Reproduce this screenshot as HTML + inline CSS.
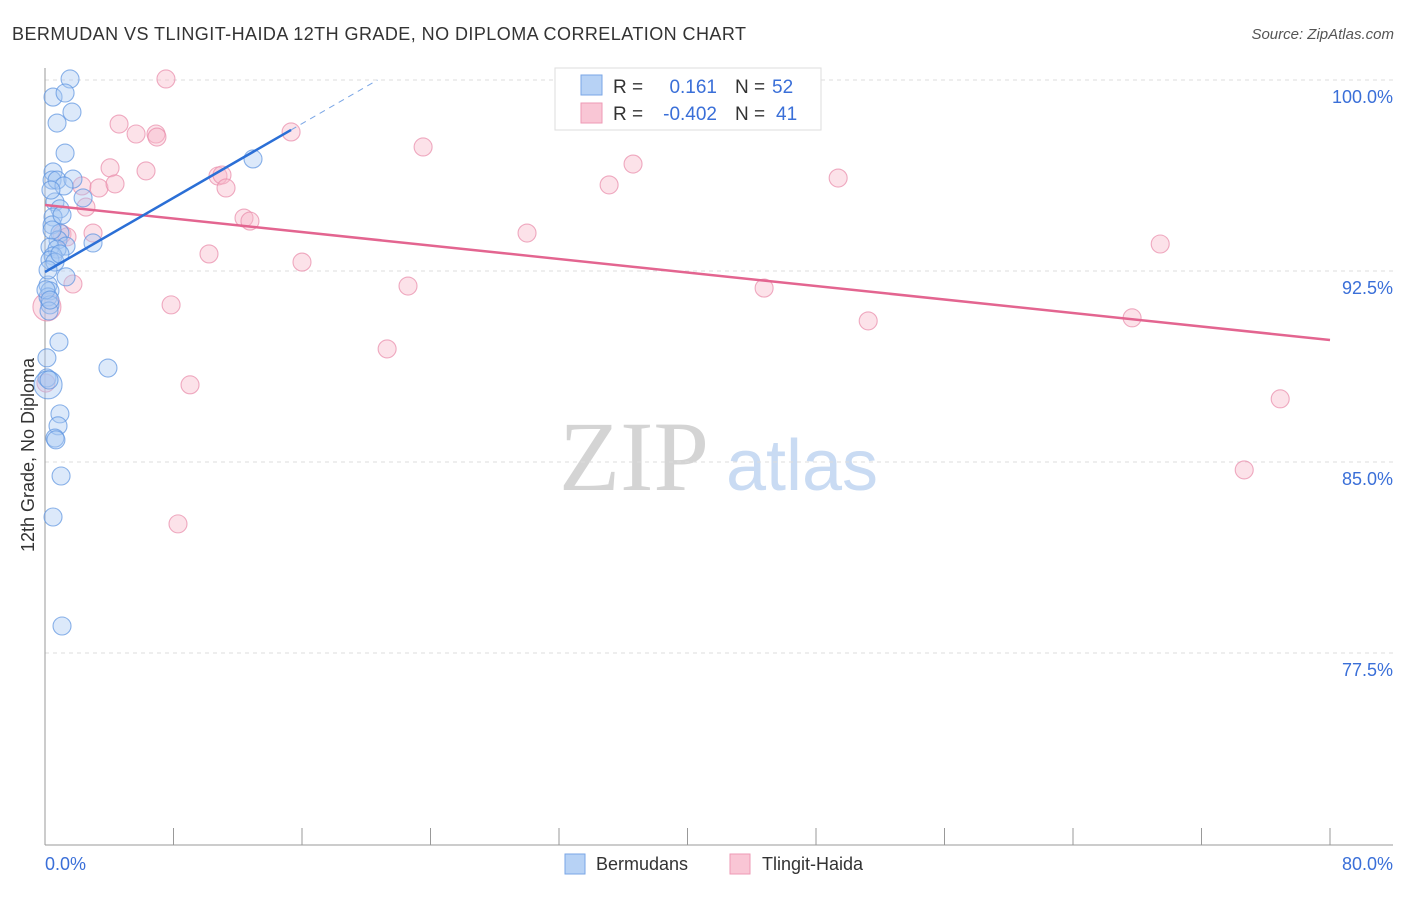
<!DOCTYPE html>
<html><head><meta charset="utf-8"><style>
body{margin:0;background:#fff;font-family:"Liberation Sans",sans-serif;}
svg text{font-family:"Liberation Sans",sans-serif;}
svg text.serif{font-family:"Liberation Serif",serif;}
</style></head><body>
<svg id="chart" width="1406" height="892">
<text x="12" y="40" font-size="18" fill="#333" textLength="734">BERMUDAN VS TLINGIT-HAIDA 12TH GRADE, NO DIPLOMA CORRELATION CHART</text>
<text x="1394" y="39" font-size="15" fill="#555" text-anchor="end" font-style="italic">Source: ZipAtlas.com</text>
<g>
<text class="serif" x="634" y="490" font-size="100" fill="#d4d4d4" text-anchor="middle">ZIP</text>
<text x="802" y="490" font-size="72" fill="#c9dbf3" text-anchor="middle">atlas</text>
</g>
<g id="grid"></g>
<g id="axes"></g>
<g id="pts"></g>
<g id="lines"></g>
<text transform="translate(34,455) rotate(-90)" font-size="18" fill="#333" text-anchor="middle">12th Grade, No Diploma</text>
<g>
<rect x="555" y="68" width="266" height="62" fill="#fff" stroke="#ddd"/>
<rect x="581" y="75" width="21" height="20" fill="#b7d2f5" stroke="#7aa6e6"/>
<rect x="581" y="103" width="21" height="20" fill="#f9c6d5" stroke="#ee9ab5"/>
<text x="613" y="93" font-size="19" fill="#333">R =</text>
<text x="717" y="93" font-size="19" fill="#3a6fd8" text-anchor="end">0.161</text>
<text x="735" y="93" font-size="19" fill="#333">N =</text>
<text x="772" y="93" font-size="19" fill="#3a6fd8">52</text>
<text x="613" y="120" font-size="19" fill="#333">R =</text>
<text x="717" y="120" font-size="19" fill="#3a6fd8" text-anchor="end">-0.402</text>
<text x="735" y="120" font-size="19" fill="#333">N =</text>
<text x="776" y="120" font-size="19" fill="#3a6fd8">41</text>
</g>
<g>
<rect x="565" y="854" width="20" height="20" fill="#b7d2f5" stroke="#7aa6e6"/>
<text x="596" y="870" font-size="18" fill="#333">Bermudans</text>
<rect x="730" y="854" width="20" height="20" fill="#f9c6d5" stroke="#ee9ab5"/>
<text x="762" y="870" font-size="18" fill="#333">Tlingit-Haida</text>
</g>
</svg>
<script>
const yTicks=[100,92.5,85,77.5];
const yTickLabels=["100.0%","92.5%","85.0%","77.5%"];
const xTickLabels=["0.0%","80.0%"];
const blueX=[1.56,0.50,1.25,1.68,0.75,1.25,12.95,0.50,0.44,0.75,1.74,1.18,2.37,0.62,0.93,0.50,0.44,0.93,0.81,1.31,2.99,0.31,0.75,0.50,0.31,1.31,0.19,0.31,0.19,0.31,0.25,0.87,0.12,3.92,0.12,0.19,0.93,0.81,0.62,1.00,0.50,1.06,0.44,0.62,0.19,0.06,0.93,0.31,0.25,0.68,0.37,1.06];
const blueY=[100.04,99.33,99.49,98.74,98.31,97.13,96.90,96.39,96.07,96.07,96.11,95.84,95.37,95.21,94.94,94.62,94.31,93.99,93.72,93.48,93.60,93.44,93.36,93.09,92.93,92.27,91.95,91.72,91.48,91.17,90.93,89.71,89.09,88.69,88.30,88.03,86.89,86.42,85.94,84.45,82.84,78.56,94.11,92.85,92.54,91.76,93.17,91.36,88.22,85.87,95.68,94.70];
const pinkX=[7.53,4.61,5.67,6.91,6.97,15.32,23.54,4.05,6.29,2.30,3.36,4.36,10.77,11.02,11.27,36.61,35.12,49.38,2.55,2.99,1.06,12.39,12.76,30.01,69.43,10.21,16.00,1.74,22.60,44.77,7.85,51.25,67.68,21.30,9.03,76.90,74.66,8.28,0.12,0.06,1.37];
const pinkY=[100.04,98.27,97.88,97.88,97.76,97.96,97.37,96.55,96.43,95.84,95.76,95.92,96.23,96.27,95.76,96.70,95.88,96.15,95.01,93.99,93.95,94.58,94.46,93.99,93.56,93.17,92.85,91.99,91.91,91.83,91.17,90.54,90.66,89.44,88.03,87.48,84.69,82.57,91.09,88.10,93.84];
const blueBig=[35];
const pinkBig=[38];
const blueTrend=[[0,92.46],[15.32,98.04]];
const blueTrendDash=[[15.32,98.04],[20.7,100]];
const pinkTrend=[[0,95.09],[80,89.79]];

const X0=45,X1=1330,Y0=80;
const sx=v=>X0+v*(X1-X0)/80;
const sy=v=>Y0+(100-v)*(191/7.5);
const NS="http://www.w3.org/2000/svg";
function mk(tag,attrs,parent){const e=document.createElementNS(NS,tag);for(const k in attrs)e.setAttribute(k,attrs[k]);parent.appendChild(e);return e;}
const grid=document.getElementById('grid'),axes=document.getElementById('axes'),pts=document.getElementById('pts'),lines=document.getElementById('lines');
yTicks.forEach((t,i)=>{
 const l=mk('line',{x1:X0,x2:1393,y1:sy(t),y2:sy(t),stroke:'#ddd','stroke-dasharray':'4,4'},grid);
 
 
 const tx=mk('text',{x:1393,y:sy(t)+23,'font-size':18,fill:'#3a6fd8','text-anchor':'end'},grid);
 tx.textContent=yTickLabels[i];
 
 
});
const ax=mk('line',{x1:X0,x2:X0,y1:68,y2:845,stroke:'#999'},axes);


const bx=mk('line',{x1:X0,x2:1393,y1:845,y2:845,stroke:'#999'},axes);


for(let i=0;i<=10;i++){
 const t=mk('line',{x1:sx(i*8),x2:sx(i*8),y1:828,y2:845,stroke:'#999'},axes);
 
 
}
[[0,'start'],[80,'end']].forEach((d,i)=>{
 const tx=mk('text',{x:i?1393:45,y:870,'font-size':18,fill:'#3a6fd8','text-anchor':d[1]},axes);
 tx.textContent=xTickLabels[i];
 
 
});
function drawPts(xs,ys,big,fill,stroke,name){
 xs.forEach((x,i)=>{
  const c=mk('circle',{cx:sx(x),cy:sy(ys[i]),r:big.includes(i)?14:9,fill:fill,'fill-opacity':0.4,stroke:stroke,'stroke-width':1.1,'stroke-opacity':0.7},pts);
  
  
 });
}
drawPts(pinkX,pinkY,pinkBig,'#f7b6c9','#e889a8','tlingit-haida-point');
drawPts(blueX,blueY,blueBig,'#a8c8f2','#5b93e0','bermudan-point');
function trend(seg,color,dash,name){
 const l=mk('line',{x1:sx(seg[0][0]),y1:sy(seg[0][1]),x2:sx(seg[1][0]),y2:sy(seg[1][1]),stroke:color,'stroke-width':dash?1:2.5},lines);
 if(dash)l.setAttribute('stroke-dasharray','6,5');
 
 
}
trend(pinkTrend,'#e36590',false,'tlingit-haida-trendline');
trend(blueTrend,'#2b6fd6',false,'bermudan-trendline');
trend(blueTrendDash,'#7aa6e6',true,'bermudan-trendline-extension');
</script>
</body></html>
